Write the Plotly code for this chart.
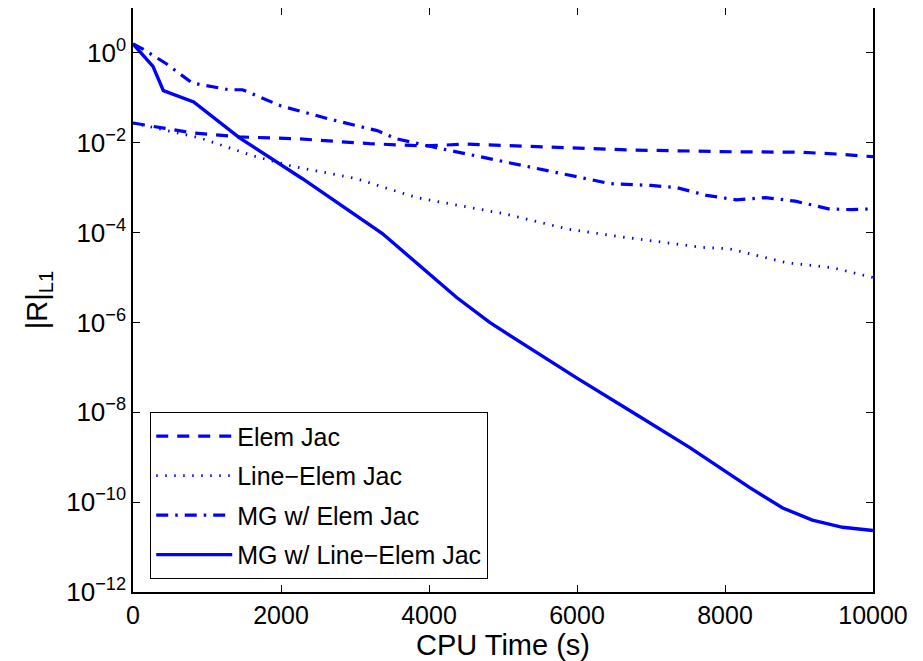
import plotly.graph_objects as go

# ---- data (x = CPU time in s, y = log10 of |R|_L1) ----
elem_x = [0, 800, 1440, 2210, 3200, 3900, 4100, 4500, 5000, 6000, 6700, 8100, 8600, 9000, 9500, 10000]
elem_logy = [-1.56, -1.78, -1.87, -1.91, -2.02, -2.07, -2.06, -2.03, -2.06, -2.12, -2.16, -2.2, -2.2, -2.21, -2.25, -2.31]

line_x = [0, 900, 1620, 2150, 3020, 3830, 4550, 5020, 5900, 6670, 7700, 8060, 8830, 9450, 10000]
line_logy = [-1.56, -1.89, -2.29, -2.52, -2.8, -3.22, -3.44, -3.58, -3.93, -4.11, -4.33, -4.36, -4.67, -4.78, -5.0]

mg_x = [0, 130, 450, 800, 1300, 1480, 2000, 2650, 3300, 3560, 4100, 4950, 5720, 6450, 7000, 7350, 7750, 8150, 8550, 8950, 9400, 9700, 10000]
mg_logy = [0.2, 0.09, -0.24, -0.67, -0.82, -0.82, -1.18, -1.47, -1.73, -1.91, -2.11, -2.4, -2.67, -2.91, -2.95, -3.0, -3.17, -3.27, -3.22, -3.3, -3.47, -3.49, -3.47]

mgl_x = [0, 270, 410, 820, 1440, 2290, 3370, 4000, 4370, 4820, 6000, 6800, 7520, 8330, 8780, 9180, 9590, 10000]
mgl_logy = [0.2, -0.3, -0.84, -1.09, -1.89, -2.8, -4.02, -4.9, -5.44, -6.0, -7.24, -8.05, -8.78, -9.67, -10.13, -10.4, -10.56, -10.63]

names = ["Elem Jac", "Line\u2212Elem Jac", "MG w/ Elem Jac", "MG w/ Line\u2212Elem Jac"]

x_ticks = [0, 2000, 4000, 6000, 8000, 10000]
y_exps = [0, -2, -4, -6, -8, -10, -12]

FONT = "Liberation Sans, Arial, Helvetica, sans-serif"
BLUE = "#0000ff"

series = [
    (elem_x, elem_logy, dict(width=3.2, dash="12px,9px")),
    (line_x, line_logy, dict(width=2.8, dash="1.5px,7.5px")),
    (mg_x, mg_logy, dict(width=3.2, dash="12px,7px,2.5px,7px")),
    (mgl_x, mgl_logy, dict(width=3.4, dash="solid")),
]

fig = go.Figure()
for i, (xs, ly, st) in enumerate(series):
    fig.add_trace(go.Scatter(
        x=xs, y=[10 ** v for v in ly], mode="lines", name=names[i],
        legendgroup=f"g{i}",
        line=dict(color=BLUE, width=st["width"], dash=st["dash"]),
    ))

fig.update_layout(
    width=923, height=661,
    margin=dict(l=125, r=58, t=0, b=77, autoexpand=False),
    paper_bgcolor="white", plot_bgcolor="white",
    font=dict(family=FONT, size=26, color="black"),
    legend=dict(
        x=0.023, y=0.308, xanchor="left", yanchor="top",
        bgcolor="white", bordercolor="black", borderwidth=1.2,
        font=dict(family=FONT, size=25, color="black"),
        traceorder="grouped", tracegroupgap=4,
        itemwidth=76,
    ),
    showlegend=True,
)

fig.update_xaxes(
    range=[0, 10000], tickvals=x_ticks, ticktext=[str(v) for v in x_ticks],
    ticks="inside", ticklen=7, tickwidth=1.2, tickcolor="black",
    showline=True, linecolor="black", linewidth=1.5, mirror="ticks",
    showgrid=False, zeroline=False,
    title=dict(text="CPU Time (s)", font=dict(size=29), standoff=2),
    tickfont=dict(size=25),
)
fig.update_yaxes(
    type="log", range=[-12, 1],
    tickvals=[10 ** e for e in y_exps],
    ticktext=[f"10<sup>{e}</sup>".replace("-", "\u2212") for e in y_exps],
    ticks="inside", ticklen=7, tickwidth=1.2, tickcolor="black",
    showline=True, linecolor="black", linewidth=1.5, mirror="ticks",
    showgrid=False, zeroline=False,
    title=dict(text="|R|<sub>L1</sub>", font=dict(size=29), standoff=10),
    tickfont=dict(size=26),
)

fig.write_html("out.html")
